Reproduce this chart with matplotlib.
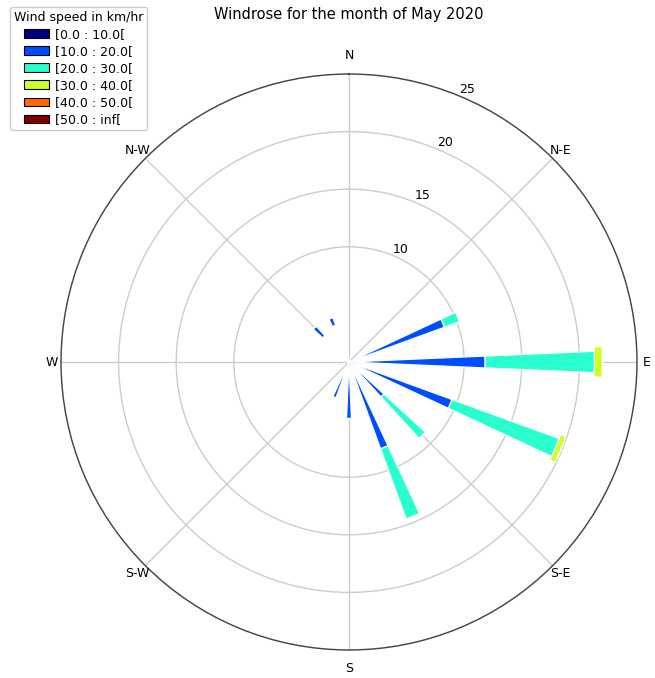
import numpy as np
import matplotlib
matplotlib.use("Agg")
import matplotlib.pyplot as plt
from matplotlib.patches import Patch

# wind directions (16 sectors, clockwise from North)
directions = ["N", "NNE", "NE", "ENE", "E", "ESE", "SE", "SSE",
              "S", "SSW", "SW", "WSW", "W", "WNW", "NW", "NNW"]
dir_angles = [0, 22.5, 45, 67.5, 90, 112.5, 135, 157.5,
              180, 202.5, 225, 247.5, 270, 292.5, 315, 337.5]

speed_bins = ["[0.0 : 10.0[", "[10.0 : 20.0[", "[20.0 : 30.0[",
              "[30.0 : 40.0[", "[40.0 : 50.0[", "[50.0 : inf["]

# frequency (%) per speed bin and direction
freq_0_10 = [0, 0, 0, 0, 0, 0, 0, 0, 0, 0, 0, 0, 0, 0, 3.0, 3.3]
freq_10_20 = [0, 0, 0, 8.8, 11.8, 9.5, 4.1, 8.0, 4.9, 3.3, 0, 0, 0, 0, 1.2, 0.8]
freq_20_30 = [0, 0, 0, 1.4, 9.5, 9.9, 4.9, 6.5, 0, 0, 0, 0, 0, 0, 0, 0]
freq_30_40 = [0, 0, 0, 0, 0.7, 0.5, 0, 0, 0, 0, 0, 0, 0, 0, 0, 0]
freq_40_50 = [0] * 16
freq_50_inf = [0] * 16

compass_labels = ["N", "N-E", "E", "S-E", "S", "S-W", "W", "N-W"]
compass_angles = [0, 45, 90, 135, 180, 225, 270, 315]
radial_ticks = [10, 15, 20, 25]

table = np.array([freq_0_10, freq_10_20, freq_20_30,
                  freq_30_40, freq_40_50, freq_50_inf])
colors = plt.cm.jet(np.linspace(0, 1, len(speed_bins)))
theta = np.deg2rad(dir_angles)

fig = plt.figure(figsize=(6.55, 6.78), dpi=100)
ax = fig.add_axes([61 / 655, 28 / 678, 576 / 655, 576 / 678], projection="polar")
ax.set_theta_zero_location("N")
ax.set_theta_direction(-1)

bottom = np.zeros(len(dir_angles))
for i, row in enumerate(table):
    w = np.deg2rad(7.0 if i == 3 else 5.0)
    lw = 2.5 if i == 0 else 0.9
    ax.bar(theta, row, width=w, bottom=bottom, color=colors[i],
           edgecolor="white", linewidth=lw, zorder=10 - i)
    bottom += row

ax.set_ylim(0, 25)
ax.set_rgrids(radial_ticks, labels=[str(t) for t in radial_ticks], fontsize=9)
ax.set_rlabel_position(22.5)
ax.set_thetagrids(compass_angles, labels=[""] * len(compass_angles))
ax.grid(color="#cccccc", linewidth=1)
ax.spines["polar"].set_color("#444444")
ax.spines["polar"].set_linewidth(1)

# compass labels placed just outside the rim
for ang, lab in zip(compass_angles, compass_labels):
    r = 26.6 if ang % 180 == 0 else (25.8 if ang % 90 == 0 else 26.0)
    ax.text(np.deg2rad(ang), r, lab, ha="center", va="center",
            fontsize=9, clip_on=False)

fig.text(349 / 655, 1 - 15 / 678, "Windrose for the month of May 2020",
         ha="center", va="center", fontsize=10.5)

handles = [Patch(facecolor=c, edgecolor="black", linewidth=0.8) for c in colors]
fig.legend(handles, speed_bins, title="Wind speed in km/hr", loc="upper left",
           bbox_to_anchor=(0.006, 0.999), fontsize=9, title_fontsize=9,
           handlelength=2.0, handletextpad=0.55, labelspacing=0.33,
           borderpad=0.3, framealpha=1)

fig.savefig("out.png", dpi=100)
